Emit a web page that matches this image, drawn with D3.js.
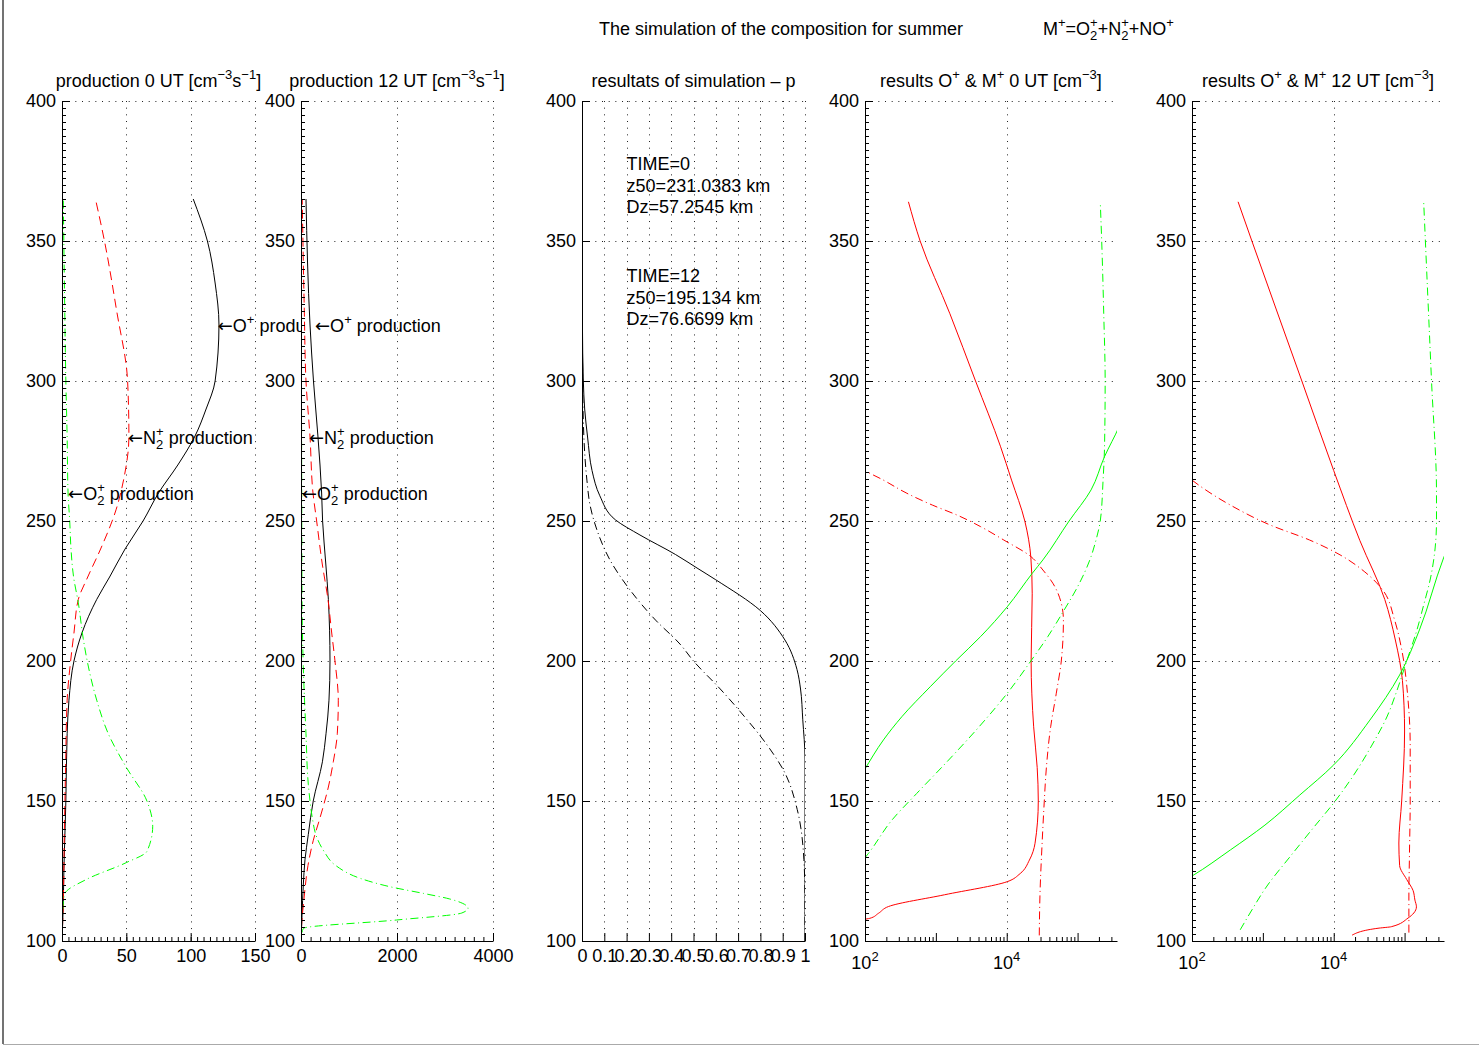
<!DOCTYPE html>
<html>
<head>
<meta charset="utf-8">
<title>composition for summer</title>
<script src="https://cdn.jsdelivr.net/npm/d3@7"></script>
<style>
  body { margin: 0; background: #fff; }
  #fig text { font-family: "Liberation Sans", Arial, Helvetica, sans-serif; fill: #000; }
  #fig tspan.arrow { font-family: "DejaVu Sans", sans-serif; }
</style>
</head>
<body>
<svg id="fig" width="1479" height="1046"></svg>
<script>
// all series are [altitude km, value]

// production 0 UT
var p0_O  = [[100,0],[110,0.8],[126,1.5],[150,3],[174,4],[186,5.4],[200,9.3],[210,15.5],[222,27],[230,37],[240,49],[250,63],[260,75],[270,90],[280,103],[290,112],[300,119],[320,122],[335,119],[350,113],[365,102]];
var p0_N2 = [[100,0],[114,1],[138,1.8],[162,2.8],[186,4],[200,6.7],[210,9.3],[222,12.7],[230,20],[240,30],[254,42],[265,48],[280,52],[300,51],[325,42.5],[350,33],[365,26]];
var p0_O2 = [[100,0],[114,1],[117,2.3],[122,19],[128,50],[132,66],[141,70.5],[150,66],[162,50],[174,36],[186,27],[200,19.6],[208,16.5],[221,12.6],[230,9],[240,7],[250,6],[260,4.7],[280,4],[300,3],[330,2],[365,1]];

// production 12 UT
var p12_O  = [[100,0],[109,21],[120,48],[129,83],[138,152],[150,255],[164,446],[174,521],[186,583],[200,604],[222,570],[235,515],[250,450],[260,430],[280,354],[300,260],[320,188],[365,104]];
var p12_N2 = [[100,0],[106,14],[115,62],[127,146],[136,257],[144,396],[155,570],[164,673],[174,756],[186,777],[200,708],[210,640],[222,562],[235,440],[250,326],[260,250],[280,188],[300,104],[325,69],[365,25]];
var p12_O2 = [[103,20],[104.5,50],[107.5,1990],[110,3350],[111.7,3480],[115,3100],[117,2550],[119.4,1850],[122.4,1230],[127,720],[132,480],[137,330],[144,235],[150,188],[156,152],[174,104],[198,48],[222,21],[260,15],[300,10],[365,5]];

// simulated p
var pT0  = [[100,1],[165,1],[179,0.99],[190,0.98],[197,0.964],[207.5,0.91],[218,0.8],[229,0.6],[233,0.52],[238,0.42],[245,0.26],[250.4,0.15],[259,0.08],[268,0.045],[280,0.025],[290,0.012],[300,0.006],[320,0.002],[365,0]];
var pT12 = [[100,1],[115,1],[129,0.995],[147,0.965],[160,0.91],[170,0.83],[180,0.73],[190,0.62],[200,0.5],[206,0.44],[214.6,0.33],[225.4,0.215],[236,0.126],[246.8,0.067],[255.7,0.036],[264.6,0.022],[279,0.009],[300,0.003],[365,0]];
var simText0  = ["TIME=0", "z50=231.0383 km", "Dz=57.2545 km"];
var simText12 = ["TIME=12", "z50=195.134 km", "Dz=76.6699 km"];

// densities 0 UT
var d0_O   = [[106,80],[107.7,98],[108.1,117],[109.9,155],[112.3,214],[116.5,1320],[121.2,10200],[124.1,15500],[128.9,20900],[134.9,25100],[150,27900],[162,26900],[176.5,24000],[200,22100],[224,22900],[237,21900],[250,18000],[264.6,11700],[276.5,8200],[300,3630],[324,1580],[350,600],[364,410]];
var d0_M   = [[102,28800],[117,29500],[135,31600],[150,33900],[162,36300],[176.5,41700],[188.5,50100],[200,58900],[214.6,63100],[220.6,58900],[227.8,44700],[232.5,32400],[237.3,21900],[243.2,9100],[248,4270],[252.1,2000],[255.7,890],[259.9,390],[264.6,182],[268.2,98],[270,80]];
var d0_Gs  = [[155,70],[161.1,98],[171.8,182],[180.1,331],[190.8,832],[200,1900],[208.7,4270],[219.4,10200],[231.3,22900],[236.1,32400],[250,75900],[261.1,155000],[273,240000],[283.7,385000],[290,480000]];
var d0_Gd  = [[125,70],[131.3,112],[143.2,240],[152.7,537],[164.6,1510],[176.5,4070],[188.5,10200],[200,21900],[208.7,38000],[218.2,64600],[226.5,100000],[237.3,155000],[243.2,182000],[250,209000],[264.6,229000],[276.5,240000],[300,245000],[324,234000],[350,219000],[364,209000]];

// densities 12 UT
var d12_O  = [[102.1,18200],[104.6,43600],[105.1,64900],[108.2,112000],[110,135000],[112.2,147000],[114.6,140000],[118,132000],[122,107000],[127,85100],[135,83000],[150,91000],[175,100000],[193,93300],[207.5,74100],[222,52500],[243,23400],[268,10000],[300,3550],[350,700],[364,447]];
var d12_M  = [[103,115000],[115,115000],[130,117000],[150,120000],[170,120000],[186,112000],[204,91200],[214.6,72400],[225.4,49000],[231.8,27500],[237.9,12300],[243.2,4570],[248.6,1260],[255.7,347],[264.6,100],[266,85]];
var d12_Gs = [[121,71],[123.2,100],[132.5,347],[141.4,1070],[152.1,3310],[162.9,10000],[178.9,32400],[195,85100],[211.1,162000],[236.8,355000],[245,479000]];
var d12_Gd = [[104,479],[110,660],[120,1170],[130,2400],[140,5000],[150,10500],[160,20000],[170,34700],[180,56200],[190,79400],[200,107000],[210,145000],[220,186000],[230,234000],[240,269000],[250,282000],[260,282000],[300,240000],[364,186000]];

// axis ticks
var altTicks = [100, 150, 200, 250, 300, 350, 400];
var ticks0  = [0, 50, 100, 150];
var ticks12 = [0, 2000, 4000];
var ticksP  = [0, 0.1, 0.2, 0.3, 0.4, 0.5, 0.6, 0.7, 0.8, 0.9, 1];
var logTicks = [100, 1000, 10000, 100000];
var logLabels = [[100, "2"], [10000, "4"]];

// annotations [value, altitude]
var notes0  = [{at: [121, 320], n: "O", sup: "+"}, {at: [51.3, 280], n: "N", sup: "+", sub: "2"}, {at: [4.7, 260], n: "O", sup: "+", sub: "2"}];
var notes12 = [{at: [292, 320], n: "O", sup: "+"}, {at: [167, 280], n: "N", sup: "+", sub: "2"}, {at: [21, 260], n: "O", sup: "+", sub: "2"}];

var FONT = 18;
var RED = "#ff0000", GREEN = "#00ff00", BLACK = "#000";
var DASH = "9,5", DASHDOT = "8,3.5,1,3.5", GRID = "1,5.67";

var svg = d3.select("#fig");
var TOP = 101, BOT = 941;
var yAlt = d3.scaleLinear().domain([100, 400]).range([BOT, TOP]);

var measurer = svg.append("text").attr("visibility", "hidden");
function textW(s, fs) {
    measurer.attr("font-size", fs).text(s);
    return measurer.node().getComputedTextLength();
}

// text with TeX-like sub/superscripts (stacked when both)
function rich(t, parts, fs) {
    var sm = Math.round(fs * 0.72 * 10) / 10;
    var up = -0.42 * fs, down = 0.3 * fs;
    var cur = 0, pend = 0;
    parts.forEach(function (p) {
        if (typeof p === "string") {
            t.append("tspan").attr("font-size", fs).attr("dx", pend).attr("dy", -cur).text(p);
            cur = 0; pend = 0;
        } else if (p.arrow) {
            t.append("tspan").attr("class", "arrow").attr("font-size", fs).attr("dx", pend).attr("dy", -cur).text("\u2190");
            cur = 0; pend = 0;
        } else if (p.sup !== undefined && p.sub !== undefined) {
            t.append("tspan").attr("font-size", sm).attr("dx", pend).attr("dy", up - cur).text(p.sup);
            var w1 = textW(p.sup, sm), w2 = textW(p.sub, sm);
            t.append("tspan").attr("font-size", sm).attr("dx", -w1).attr("dy", down - up).text(p.sub);
            cur = down; pend = Math.max(0, w1 - w2);
        } else if (p.sup !== undefined) {
            t.append("tspan").attr("font-size", sm).attr("dx", pend).attr("dy", up - cur).text(p.sup);
            cur = up; pend = 0;
        } else {
            t.append("tspan").attr("font-size", sm).attr("dx", pend).attr("dy", down - cur).text(p.sub);
            cur = down; pend = 0;
        }
    });
    return t;
}

var panels = [
    {left: 62, right: 255, next: 301, domain: [0, 150], ticks: ticks0, minor: 5, yMinor: true,
     title: ["production 0 UT [cm", {sup: "\u22123"}, "s", {sup: "\u22121"}, "]"],
     series: [{d: p0_O, c: BLACK}, {d: p0_N2, c: RED, dash: DASH}, {d: p0_O2, c: GREEN, dash: DASHDOT}],
     notes: notes0},
    {left: 301, right: 493, next: 582, domain: [0, 4000], ticks: ticks12, minor: 200, yMinor: true,
     title: ["production 12 UT [cm", {sup: "\u22123"}, "s", {sup: "\u22121"}, "]"],
     series: [{d: p12_O, c: BLACK}, {d: p12_N2, c: RED, dash: DASH}, {d: p12_O2, c: GREEN, dash: DASHDOT}],
     notes: notes12},
    {left: 582, right: 805, domain: [0, 1], ticks: ticksP, minor: 0, yMinor: false,
     fmt: function (d) { return (d === 0 || d === 1) ? String(d) : d.toFixed(1); },
     title: ["resultats of simulation \u2013 p"],
     series: [{d: pT0, c: BLACK}, {d: pT12, c: BLACK, dash: DASHDOT}],
     blocks: [{alt: 370, lines: simText0}, {alt: 330, lines: simText12}]},
    {left: 865, right: 1117, log: true, domain: [100, 3.6e5], yMinor: true,
     title: ["results O", {sup: "+"}, " & M", {sup: "+"}, " 0 UT [cm", {sup: "\u22123"}, "]"],
     series: [{d: d0_O, c: RED}, {d: d0_M, c: RED, dash: DASHDOT}, {d: d0_Gs, c: GREEN}, {d: d0_Gd, c: GREEN, dash: DASHDOT}]},
    {left: 1192, right: 1444, log: true, domain: [100, 3.6e5], yMinor: true,
     title: ["results O", {sup: "+"}, " & M", {sup: "+"}, " 12 UT [cm", {sup: "\u22123"}, "]"],
     series: [{d: d12_O, c: RED}, {d: d12_M, c: RED, dash: DASHDOT}, {d: d12_Gs, c: GREEN}, {d: d12_Gd, c: GREEN, dash: DASHDOT}]}
];

function px(v) { return Math.round(v) + 0.5; }

panels.forEach(function (P, i) {
    var x = (P.log ? d3.scaleLog() : d3.scaleLinear()).domain(P.domain).range([P.left, P.right]);
    var g = svg.append("g");

    // white axes background
    g.append("rect").attr("x", P.left).attr("y", TOP).attr("width", P.right - P.left)
        .attr("height", BOT - TOP).attr("fill", "#fff");

    // dotted grid
    var vGrid = P.log ? [10000] : P.ticks.filter(function (d) { return d !== P.domain[0]; });
    g.selectAll(".vg").data(vGrid).enter().append("line")
        .attr("x1", function (d) { return px(x(d)); }).attr("x2", function (d) { return px(x(d)); })
        .attr("y1", TOP).attr("y2", BOT)
        .attr("stroke", "#222").attr("stroke-dasharray", GRID);
    g.selectAll(".hg").data(altTicks.slice(1)).enter().append("line")
        .attr("x1", P.left).attr("x2", P.right)
        .attr("y1", function (d) { return px(yAlt(d)); }).attr("y2", function (d) { return px(yAlt(d)); })
        .attr("stroke", "#222").attr("stroke-dasharray", GRID);

    // curves
    svg.append("clipPath").attr("id", "clip" + i).append("rect")
        .attr("x", P.left).attr("y", TOP).attr("width", P.right - P.left).attr("height", BOT - TOP);
    var line = d3.line().x(function (d) { return x(d[1]); }).y(function (d) { return yAlt(d[0]); })
        .curve(d3.curveMonotoneY);
    P.series.forEach(function (s) {
        g.append("path").attr("d", line(s.d)).attr("clip-path", "url(#clip" + i + ")")
            .attr("fill", "none").attr("stroke", s.c).attr("stroke-width", 1)
            .attr("stroke-dasharray", s.dash || null);
    });

    // axes
    var ay = g.append("g").attr("transform", "translate(" + P.left + ",0)")
        .call(d3.axisLeft(yAlt).tickValues(altTicks).tickSize(-8).tickSizeOuter(0).tickPadding(6));
    if (P.yMinor) {
        g.append("g").attr("transform", "translate(" + P.left + ",0)")
            .call(d3.axisLeft(yAlt).tickValues(d3.range(100, 400.1, 2.5)).tickSize(-4).tickFormat(""))
            .call(function (a) { a.select(".domain").remove(); });
    }
    var xAxis = d3.axisBottom(x).tickSize(-8).tickSizeOuter(0).tickPadding(8);
    if (P.log) {
        xAxis.tickValues(logTicks.filter(function (d) { return d <= P.domain[1]; })).tickFormat("");
    } else {
        xAxis.tickValues(P.ticks).tickFormat(P.fmt || d3.format("d"));
    }
    var ax = g.append("g").attr("transform", "translate(0," + BOT + ")").call(xAxis);
    if (P.log) {
        var mins = [];
        [100, 1000, 10000, 100000].forEach(function (dec) {
            for (var k = 2; k <= 9; k++) if (dec * k <= P.domain[1]) mins.push(dec * k);
        });
        g.append("g").attr("transform", "translate(0," + BOT + ")")
            .call(d3.axisBottom(x).tickValues(mins).tickSize(-4).tickFormat(""))
            .call(function (a) { a.select(".domain").remove(); });
        logLabels.forEach(function (l) {
            rich(g.append("text").attr("x", x(l[0])).attr("y", 969).attr("text-anchor", "middle")
                .attr("font-size", FONT), ["10", {sup: l[1]}], FONT);
        });
    } else if (P.minor) {
        g.append("g").attr("transform", "translate(0," + BOT + ")")
            .call(d3.axisBottom(x).tickValues(d3.range(P.domain[0], P.domain[1] + 0.001, P.minor)).tickSize(-4).tickFormat(""))
            .call(function (a) { a.select(".domain").remove(); });
    }
    [ay, ax].forEach(function (a) {
        a.attr("font-size", FONT).attr("font-family", "Liberation Sans, Arial, sans-serif");
        a.selectAll("path, line").attr("stroke", "#000");
    });

    // title
    rich(g.append("text").attr("x", (P.left + P.right) / 2).attr("y", 87)
        .attr("text-anchor", "middle").attr("font-size", FONT), P.title, FONT);

    // arrow annotations (cut where the next axes start, as in the original)
    if (P.notes) {
        svg.append("clipPath").attr("id", "nclip" + i).append("rect")
            .attr("x", 0).attr("y", 0).attr("width", P.next).attr("height", 1046);
        var ng = g.append("g").attr("clip-path", "url(#nclip" + i + ")");
        P.notes.forEach(function (n) {
            var lab = {sup: n.sup};
            if (n.sub) lab.sub = n.sub;
            rich(ng.append("text").attr("x", x(n.at[0])).attr("y", yAlt(n.at[1]) + 6.5)
                .attr("font-size", FONT), [{arrow: true}, n.n, lab, " production"], FONT);
        });
    }

    // text blocks
    (P.blocks || []).forEach(function (b) {
        b.lines.forEach(function (s, k) {
            g.append("text").attr("x", x(0.2)).attr("y", yAlt(b.alt) + (k - 1) * 21.5 + 6.5)
                .attr("font-size", FONT).text(s);
        });
    });
});

// figure title
svg.append("text").attr("x", 781).attr("y", 35).attr("text-anchor", "middle")
    .attr("font-size", FONT).text("The simulation of the composition for summer");
rich(svg.append("text").attr("x", 1043).attr("y", 35).attr("font-size", FONT),
    ["M", {sup: "+"}, "=O", {sup: "+", sub: "2"}, "+N", {sup: "+", sub: "2"}, "+NO", {sup: "+"}], FONT);

// figure frame (left and bottom edges visible)
svg.append("line").attr("x1", 3).attr("x2", 3).attr("y1", 0).attr("y2", 1044).attr("stroke", "#444").attr("stroke-width", 1.5);
svg.append("line").attr("x1", 3).attr("x2", 1479).attr("y1", 1044.5).attr("y2", 1044.5).attr("stroke", "#aaa");
</script>
</body>
</html>
